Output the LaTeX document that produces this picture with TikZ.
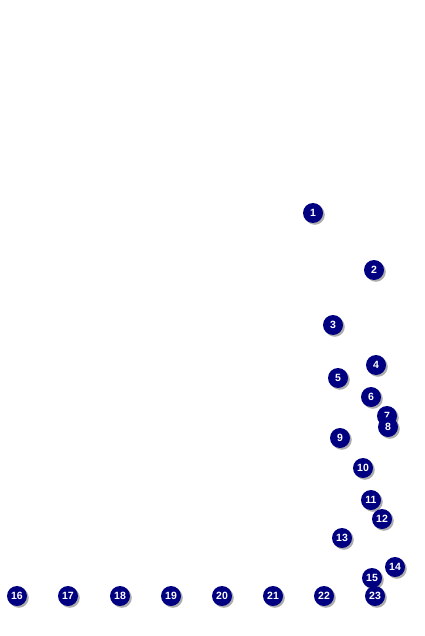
\documentclass[tikz,border=0pt]{standalone}
\usepackage{fontspec}
\setmainfont{Liberation Sans}
\usetikzlibrary{shadows}
\definecolor{navy}{HTML}{000080}

\begin{document}
\begin{tikzpicture}[x=1pt,y=-1pt,
  dot/.style={circle,fill=navy,text=white,minimum size=20pt,inner sep=0pt,
    font=\fontsize{10.5}{11}\selectfont\bfseries,
    drop shadow={shadow xshift=1.8pt,shadow yshift=-1.8pt,fill=black!40,opacity=0.8}}]
  \useasboundingbox (0,0) rectangle (424,636);
  % --- upper chain ---
  \node[dot] (n1) at (313,213) {1};
  \node[dot] (n2) at (374,270) {2};
  \node[dot] (n3) at (333,325) {3};
  \node[dot] (n4) at (376,365) {4};
  \node[dot] (n5) at (338,378) {5};
  \node[dot] (n6) at (371,397) {6};
  \node[dot] (n7) at (387,416) {7};
  \node[dot] (n8) at (388,427) {8};
  \node[dot] (n9) at (340,438) {9};
  \node[dot] (n10) at (363,468) {10};
  \node[dot] (n11) at (371,500) {11};
  \node[dot] (n12) at (382,519) {12};
  \node[dot] (n13) at (342,538) {13};
  \node[dot] (n14) at (395,567) {14};
  \node[dot] (n15) at (372,578) {15};
  % --- bottom row ---
  \foreach \i/\x in {16/17,17/68,18/120,19/171,20/222,21/273,22/324,23/375}
    \node[dot] (n\i) at (\x,596) {\i};
\end{tikzpicture}
\end{document}
